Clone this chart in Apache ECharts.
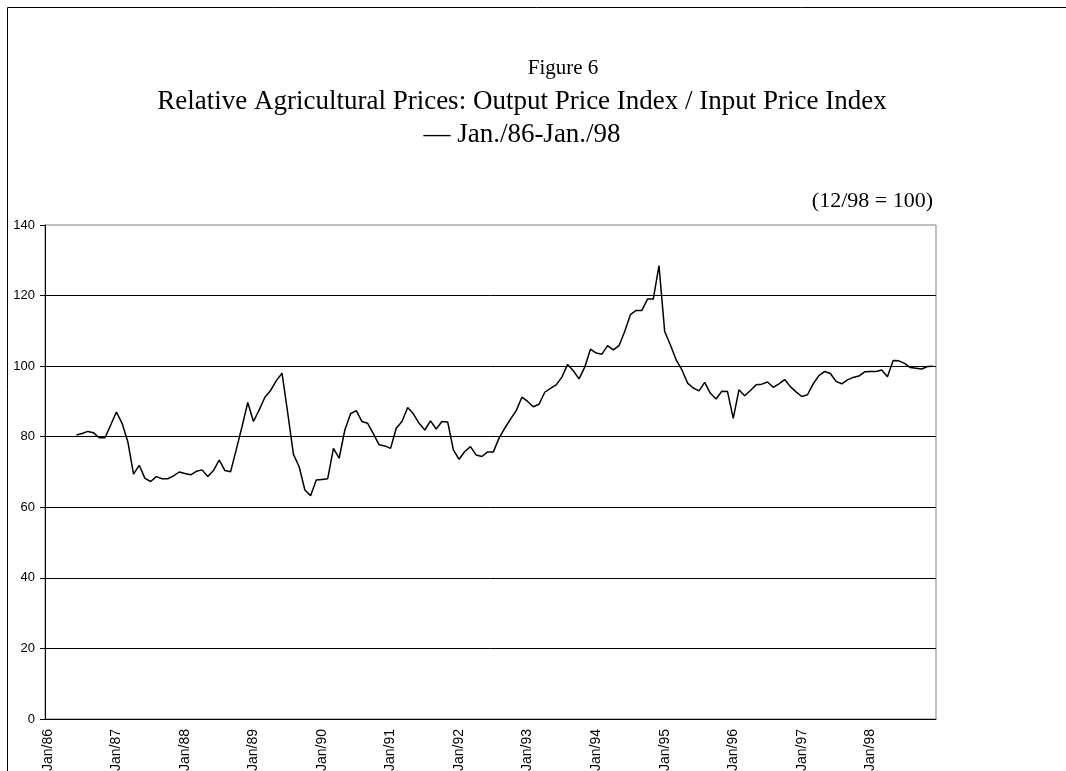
<!DOCTYPE html>
<html>
<head>
<meta charset="utf-8">
<script src="https://cdn.jsdelivr.net/npm/echarts@6/dist/echarts.min.js"></script>
<style>
  html, body { margin: 0; padding: 0; background: #fff; }
  #chart { width: 1066px; height: 771px; }
</style>
</head>
<body>
<div id="chart"></div>
<script>
  // months Jan/86 .. Dec/98, only every January gets a label
  const years = ['86','87','88','89','90','91','92','93','94','95','96','97','98'];
  const monthNames = ['Jan','Feb','Mar','Apr','May','Jun','Jul','Aug','Sep','Oct','Nov','Dec'];
  const categories = [];
  years.forEach(y => monthNames.forEach(m => categories.push(m + '/' + y)));

  // series starts at Jun/86 (index 5)
  const firstMonth = 5;
  const relPrice = [
    80.5, 80.9, 81.5, 81.1, 79.7, 79.7, 83.3,                    // Jun-Dec 86
    87.0, 83.8, 78.6, 69.4, 71.9, 68.2, 67.3, 68.7, 68.1, 68.1, 68.9, 70.0, // 87
    69.6, 69.2, 70.2, 70.6, 68.7, 70.4, 73.4, 70.4, 70.1, 76.4, 82.9, 89.7, // 88
    84.3, 87.6, 91.2, 93.1, 95.9, 98.0, 86.7, 75.0, 71.5, 64.9, 63.3, 67.7, // 89
    67.9, 68.1, 76.7, 73.9, 81.9, 86.5, 87.4, 84.3, 83.8, 80.8, 77.7, 77.4, // 90
    76.7, 82.4, 84.3, 88.3, 86.5, 83.8, 81.9, 84.5, 82.2, 84.3, 84.2, 76.3, // 91
    73.6, 75.8, 77.2, 74.8, 74.4, 75.7, 75.7, 79.6, 82.4, 85.0, 87.4, 91.2, // 92
    90.0, 88.5, 89.2, 92.6, 93.7, 94.7, 96.9, 100.5, 98.7, 96.4, 99.7, 104.8, // 93
    103.7, 103.4, 105.8, 104.6, 105.8, 109.8, 114.6, 115.8, 115.8, 119.0, 119.0, 128.5, // 94
    109.8, 106.0, 101.8, 99.0, 95.2, 93.8, 93.0, 95.4, 92.3, 90.7, 92.9, 92.8, // 95
    85.2, 93.3, 91.6, 93.1, 94.7, 94.9, 95.5, 94.0, 95.0, 96.2, 94.2, 92.7, // 96
    91.4, 91.9, 95.0, 97.3, 98.5, 97.9, 95.7, 95.0, 96.1, 96.8, 97.2, 98.4, // 97
    98.5, 98.5, 98.9, 97.0, 101.6, 101.5, 100.8, 99.6, 99.4, 99.2, 99.9, 100.0 // 98
  ];
  const yTicks = { min: 0, max: 140, step: 20 };

  const seriesData = new Array(firstMonth).fill(null).concat(relPrice);

  const serif = '"Liberation Serif", "Times New Roman", serif';
  const sans = '"Liberation Sans", Arial, sans-serif';

  const chart = echarts.init(document.getElementById('chart'));
  chart.setOption({
    animation: false,
    backgroundColor: '#fff',
    grid: {
      left: 45, right: 130, top: 225, bottom: 52,
      show: true, borderColor: '#808080', borderWidth: 1,
      outerBoundsMode: 'none'
    },
    graphic: [
      {
        type: 'polyline', silent: true,
        shape: { points: [[7.5, 771], [7.5, 7.5], [1066, 7.5]] },
        style: { stroke: '#000', lineWidth: 1, fill: null }
      },
      {
        type: 'text', x: 563, y: 68,
        style: { text: 'Figure 6', font: '21px ' + serif, fill: '#000',
                 align: 'center', verticalAlign: 'middle', textAlign: 'center', textVerticalAlign: 'middle' }
      },
      {
        type: 'text', x: 522, y: 102,
        style: { text: 'Relative Agricultural Prices: Output Price Index / Input Price Index', font: '27px ' + serif, fill: '#000',
                 align: 'center', verticalAlign: 'middle', textAlign: 'center', textVerticalAlign: 'middle' }
      },
      {
        type: 'text', x: 522, y: 135,
        style: { text: '\u2014 Jan./86-Jan./98', font: '27px ' + serif, fill: '#000',
                 align: 'center', verticalAlign: 'middle', textAlign: 'center', textVerticalAlign: 'middle' }
      },
      {
        type: 'text', x: 933, y: 201,
        style: { text: '(12/98 = 100)', font: '22px ' + serif, fill: '#000',
                 align: 'right', verticalAlign: 'middle', textAlign: 'right', textVerticalAlign: 'middle' }
      }
    ],
    xAxis: {
      type: 'category',
      data: categories,
      boundaryGap: true,
      axisLine: { lineStyle: { color: '#000', width: 1 } },
      axisTick: { interval: 11, length: 5, lineStyle: { color: '#000' } },
      axisLabel: { interval: 11, rotate: 90, margin: 10, color: '#000', fontFamily: sans, fontSize: 14 },
      splitLine: { show: false }
    },
    yAxis: {
      type: 'value',
      min: yTicks.min, max: yTicks.max, interval: yTicks.step,
      axisLine: { show: true, lineStyle: { color: '#000', width: 1 } },
      axisTick: { show: true, length: 5, lineStyle: { color: '#000' } },
      axisLabel: { margin: 10, color: '#000', fontFamily: sans, fontSize: 13 },
      splitLine: { showMaxLine: false, lineStyle: { color: '#000', width: 1 } }
    },
    series: [{
      type: 'line',
      data: seriesData,
      symbol: 'none',
      connectNulls: false,
      lineStyle: { color: '#000', width: 1.5 }
    }]
  });
</script>
</body>
</html>
